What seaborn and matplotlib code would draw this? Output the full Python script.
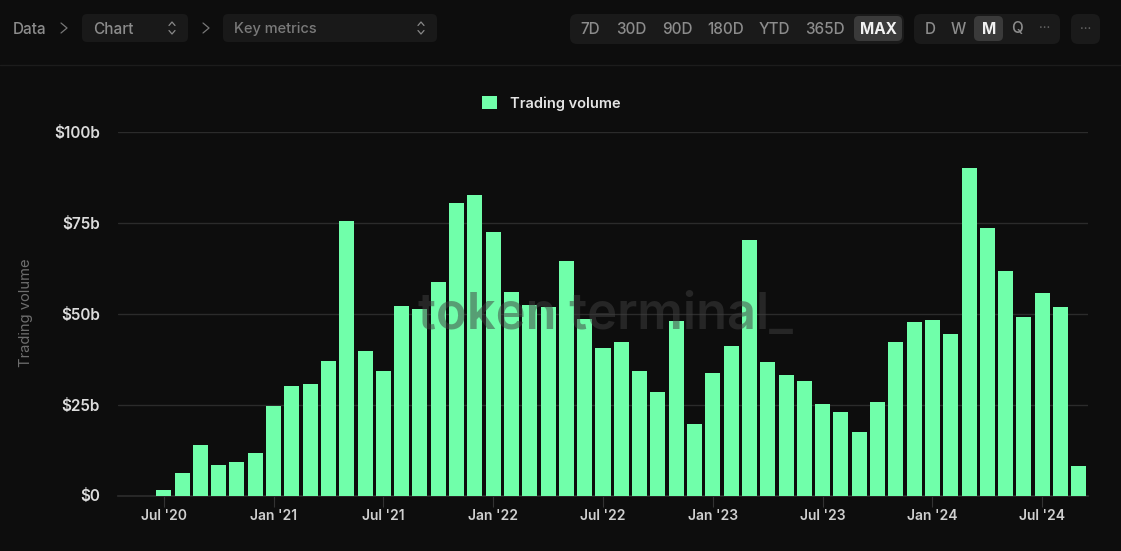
import matplotlib
matplotlib.use('Agg')
import matplotlib.pyplot as plt
from matplotlib.patches import FancyBboxPatch
import seaborn as sns
import pandas as pd

# Monthly trading volume in $b, Jul '20 to Sep '24
months = [
    "Jul '20", "Aug '20", "Sep '20", "Oct '20", "Nov '20", "Dec '20",
    "Jan '21", "Feb '21", "Mar '21", "Apr '21", "May '21", "Jun '21",
    "Jul '21", "Aug '21", "Sep '21", "Oct '21", "Nov '21", "Dec '21",
    "Jan '22", "Feb '22", "Mar '22", "Apr '22", "May '22", "Jun '22",
    "Jul '22", "Aug '22", "Sep '22", "Oct '22", "Nov '22", "Dec '22",
    "Jan '23", "Feb '23", "Mar '23", "Apr '23", "May '23", "Jun '23",
    "Jul '23", "Aug '23", "Sep '23", "Oct '23", "Nov '23", "Dec '23",
    "Jan '24", "Feb '24", "Mar '24", "Apr '24", "May '24", "Jun '24",
    "Jul '24", "Aug '24", "Sep '24",
]
volume = [
    1.5, 6.3, 13.9, 8.4, 9.1, 11.8,
    24.6, 30.1, 30.8, 37.0, 75.6, 39.8,
    34.2, 52.1, 51.3, 58.7, 80.5, 82.8,
    72.6, 56.0, 52.5, 51.9, 64.6, 48.6,
    40.5, 42.2, 34.2, 28.5, 48.0, 19.8,
    33.6, 41.2, 70.2, 36.8, 33.2, 31.5,
    25.3, 23.0, 17.5, 25.7, 42.1, 47.7,
    48.3, 44.3, 90.2, 73.5, 61.7, 49.1,
    55.6, 51.9, 8.1,
]
x_labels = ["Jul '20", "Jan '21", "Jul '21", "Jan '22", "Jul '22", "Jan '23", "Jul '23", "Jan '24", "Jul '24"]
y_ticks = [0, 25, 50, 75, 100]
y_labels = ['$0', '$25b', '$50b', '$75b', '$100b']
range_buttons = ['7D', '30D', '90D', '180D', 'YTD', '365D', 'MAX']
range_x = [590, 631, 677, 726, 774, 825, 878]
step_buttons = ['D', 'W', 'M', 'Q']
step_x = [930, 958, 989, 1017]

BG = '#0d0d0d'
GREEN = '#70ffaa'
W, H = 1121, 551

sns.set_theme(style='dark')
plt.rcParams['font.family'] = ['Inter', 'DejaVu Sans']

fig = plt.figure(figsize=(W / 100, H / 100), dpi=100, facecolor=BG)
ax = fig.add_axes([118 / W, 1 - 495.5 / H, (1088 - 118) / W, (495.5 - 132) / H], facecolor=BG)

df = pd.DataFrame({'month': months, 'volume': volume})
sns.barplot(data=df, x='month', y='volume', color=GREEN, saturation=1, width=0.82,
            linewidth=0, edgecolor='none', label='Trading volume', ax=ax, zorder=3)

ax.set_xlim(-2.5, 50.5)
ax.set_ylim(0, 100)
ax.set_yticks(y_ticks)
ax.set_yticklabels(y_labels, fontsize=11, fontweight='semibold', color='#dcdcdc')
ax.set_xticks([months.index(m) for m in x_labels])
ax.set_xticklabels(x_labels, fontsize=10, fontweight='semibold', color='#cfcfcf')
ax.tick_params(axis='y', length=0, pad=13)
ax.tick_params(axis='x', length=8, width=0.8, color='#333333', pad=2, bottom=True)
ax.yaxis.grid(True, color='#2b2b2b', linewidth=1, zorder=1)
ax.xaxis.grid(False)
for side in ['top', 'right', 'left']:
    ax.spines[side].set_visible(False)
ax.spines['bottom'].set_color('#2b2b2b')
ax.set_xlabel('')
ax.set_ylabel('')
fig.text(26 / W, 1 - 313 / H, 'Trading volume', rotation=90, ha='center', va='center',
         fontsize=10.6, color='#6e6e6e')

leg = ax.legend(loc='center', bbox_to_anchor=(551.5 / W, 1 - 103.5 / H), bbox_transform=fig.transFigure,
                frameon=False, handlelength=1, handleheight=1, handletextpad=0.9, borderpad=0,
                prop={'size': 10.5, 'weight': 'semibold'})
leg.get_texts()[0].set_color('#e4e4e4')

# Watermark sits over the bars
fig.text(605 / W, 1 - 316 / H, 'token terminal_', ha='center', va='center', fontsize=36.5,
         fontweight='semibold', color='#3f3f3f', alpha=0.5, zorder=10)

# Page header drawn in pixel coordinates
ui = fig.add_axes([0, 0, 1, 1], facecolor='none', zorder=5)
ui.set_xlim(0, W)
ui.set_ylim(H, 0)
ui.axis('off')


def box(x0, y0, x1, y1, color, r=5):
    ui.add_patch(FancyBboxPatch((x0 + r, y0 + r), x1 - x0 - 2 * r, y1 - y0 - 2 * r,
                                boxstyle=f'round,pad={r},rounding_size={r}',
                                facecolor=color, edgecolor='none'))


def chevron(x, y):
    ui.plot([x - 3, x + 3, x - 3], [y - 5, y, y + 5], color='#777777', linewidth=0.9)


def updown(x, y):
    ui.plot([x - 3, x, x + 3], [y - 2.5, y - 6, y - 2.5], color='#888888', linewidth=0.9)
    ui.plot([x - 3, x, x + 3], [y + 2.5, y + 6, y + 2.5], color='#888888', linewidth=0.9)


def label(x, y, s, color='#8c8c8c', ha='center', weight='medium', size=10.5):
    ui.text(x, y, s, color=color, ha=ha, va='center', fontsize=size, fontweight=weight)


ui.plot([0, W], [64.5, 64.5], color='#1c1c1c', linewidth=1)
label(13, 29, 'Data', ha='left', size=11)
chevron(64, 28)
box(82, 14, 188, 42, '#191919')
label(93, 29, 'Chart', ha='left', size=11)
updown(172, 28)
chevron(206, 28)
box(223, 14, 437, 42, '#191919')
label(234, 29, 'Key metrics', ha='left', color='#7a7a7a', size=10.5)
updown(421, 28)

box(570, 14, 904, 44, '#1a1a1a', r=7)
box(854, 16, 902, 41, '#3a3a3a', r=5)
for s, x in zip(range_buttons, range_x):
    active = s == 'MAX'
    label(x, 29, s, color='#f2f2f2' if active else '#8c8c8c', weight='bold' if active else 'medium', size=11)

box(914, 14, 1060, 44, '#1a1a1a', r=7)
box(974, 16, 1003, 41, '#3a3a3a', r=5)
for s, x in zip(step_buttons, step_x):
    active = s == 'M'
    label(x, 29, s, color='#f2f2f2' if active else '#8c8c8c', weight='bold' if active else 'medium', size=11)
label(1045, 28, '···', color='#666666', size=9)

box(1071, 14, 1100, 44, '#1a1a1a', r=7)
label(1085.5, 29, '···', color='#666666', size=9)

fig.savefig('out.png', dpi=100, facecolor=BG)
plt.close(fig)
